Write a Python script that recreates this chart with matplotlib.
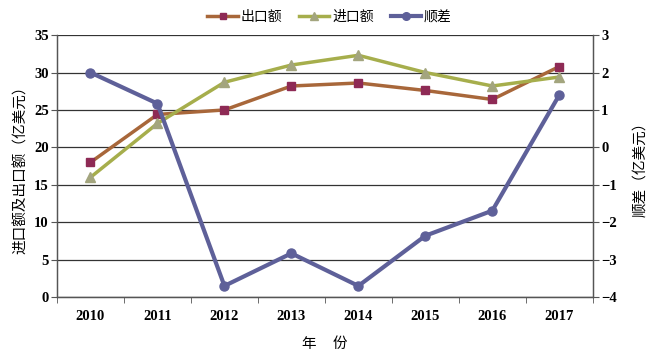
import matplotlib
matplotlib.use("Agg")
import matplotlib.pyplot as plt
from matplotlib.lines import Line2D

years = ["2010", "2011", "2012", "2013", "2014", "2015", "2016", "2017"]
export_vals = [18.0, 24.4, 25.0, 28.2, 28.6, 27.6, 26.4, 30.8]
import_vals = [16.0, 23.2, 28.7, 31.0, 32.3, 30.0, 28.2, 29.4]
surplus_vals = [2.0, 1.17, -3.70, -2.83, -3.70, -2.36, -1.69, 1.40]

serif = ["Liberation Serif", "Noto Sans CJK SC"]
cjk = ["Noto Sans CJK SC", "DejaVu Sans"]

fig = plt.figure(figsize=(6.55, 3.58), dpi=100)
ax = fig.add_axes([0.087, 0.170, 0.818, 0.732])
ax2 = ax.twinx()

x = list(range(len(years)))
c_exp_line, c_exp_mk = "#A8673A", "#8E2A55"
c_imp_line, c_imp_mk = "#A6AE4C", "#A3A57E"
c_sur = "#5E6099"

ax.plot(x, export_vals, color=c_exp_line, lw=2.5, marker="s", ms=6,
        mfc=c_exp_mk, mec=c_exp_mk, zorder=3)
ax.plot(x, import_vals, color=c_imp_line, lw=2.5, marker="^", ms=7,
        mfc=c_imp_mk, mec=c_imp_mk, zorder=3)
ax2.plot(x, surplus_vals, color=c_sur, lw=3, marker="o", ms=6.5,
         mfc=c_sur, mec=c_sur, zorder=3)

ax.set_xlim(-0.5, len(years) - 0.5)
ax.set_ylim(0, 35)
ax.set_yticks(range(0, 36, 5))
ax2.set_ylim(-4, 3)
ax2.set_yticks(range(-4, 4))
ax2.set_yticklabels([("\u2212" + str(-v)) if v < 0 else str(v) for v in range(-4, 4)])

ax.set_xticks(x)
ax.set_xticklabels(years)
ax.set_xticks([i - 0.5 for i in range(len(years) + 1)], minor=True)
ax.tick_params(axis="x", which="major", length=0, pad=9)
ax.tick_params(axis="x", which="minor", length=4, direction="out", color="#555555")
ax.tick_params(axis="y", length=4, direction="out", color="#555555", pad=2)
ax2.tick_params(axis="y", length=4, direction="out", color="#555555", pad=2)

ax.yaxis.grid(True, color="#333333", lw=0.9)
ax.set_axisbelow(True)
for a in (ax, ax2):
    a.spines["top"].set_visible(False)
    for s in ("left", "right", "bottom"):
        a.spines[s].set_color("#555555")
        a.spines[s].set_linewidth(0.9)

for lab in ax.get_xticklabels() + ax.get_yticklabels() + ax2.get_yticklabels():
    lab.set_fontfamily(serif)
    lab.set_fontsize(10.5)
    lab.set_fontweight("bold")

ax.set_ylabel("进口额及出口额（亿美元）", fontfamily=cjk, fontsize=10.5, labelpad=4)
ax2.set_ylabel("顺差（亿美元）", fontfamily=cjk, fontsize=10.5, labelpad=12)
ax.set_xlabel("年     份", fontfamily=cjk, fontsize=10.5, labelpad=10)

handles = [
    Line2D([], [], color=c_exp_line, lw=2.5, marker="s", ms=5, mfc=c_exp_mk, mec=c_exp_mk),
    Line2D([], [], color=c_imp_line, lw=2.5, marker="^", ms=5.5, mfc=c_imp_mk, mec=c_imp_mk),
    Line2D([], [], color=c_sur, lw=3, marker="o", ms=5.5, mfc=c_sur, mec=c_sur),
]
fig.legend(handles, ["出口额", "进口额", "顺差"], loc="center", ncol=3,
           bbox_to_anchor=(0.503, 0.952), frameon=False, handlelength=2.2,
           handletextpad=0.2, columnspacing=1.2, prop={"family": cjk, "size": 10})

fig.savefig("out.png", dpi=100)
